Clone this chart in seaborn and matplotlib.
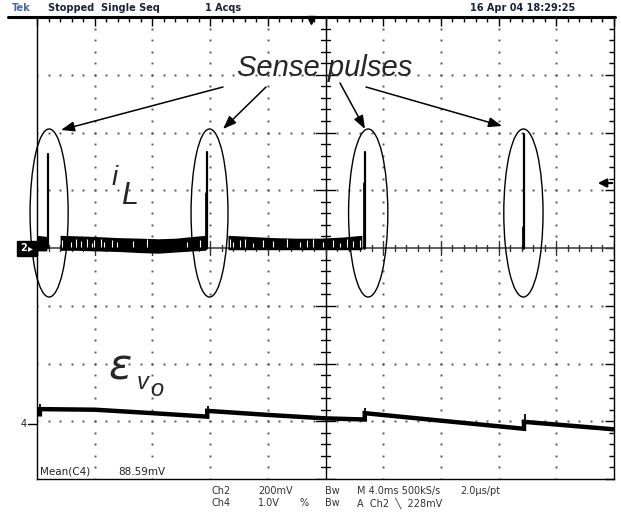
import numpy as np
import pandas as pd
import matplotlib
matplotlib.use("Agg")
import matplotlib.pyplot as plt
import seaborn as sns
from matplotlib.patches import Ellipse, Rectangle
from matplotlib.lines import Line2D

# ---------------- data (in scope divisions) ----------------
# inductor current i_L : sense pulses
pulse_x = [0.19, 2.95, 5.68, 8.44]
pulse_peak = [1.63, 1.66, 1.66, 1.97]
pulse_thick_top = [0.00, 0.95, 1.12, 0.36]

# i_L switching-noise band envelope (three segments)
bandA_x = [0.00, 0.17]
bandA_top = [0.22, 0.20]
bandA_bot = [-0.05, -0.05]
bandB_x = [0.40, 0.70, 1.00, 1.40, 1.80, 2.10, 2.40, 2.70, 2.92]
bandB_top = [0.22, 0.21, 0.20, 0.18, 0.17, 0.16, 0.17, 0.20, 0.22]
bandB_bot = [-0.04, -0.04, -0.05, -0.06, -0.08, -0.09, -0.07, -0.05, -0.04]
bandC_x = [3.31, 3.70, 4.10, 4.50, 4.90, 5.30, 5.63]
bandC_top = [0.22, 0.20, 0.18, 0.17, 0.17, 0.19, 0.22]
bandC_bot = [-0.03, -0.03, -0.03, -0.03, -0.03, -0.03, -0.03]
band_gaps = [0.43, 0.59, 0.68, 0.76, 0.87, 0.95, 0.99, 1.11, 1.16, 1.30, 1.39,
             1.66, 1.91, 2.60, 2.82, 3.34, 3.40, 3.52, 3.61, 3.74, 3.92, 4.09,
             4.33, 4.56, 4.68, 4.79, 4.96, 5.13, 5.25, 5.37, 5.47, 5.59]
gap_tops = [0.14, 0.10, 0.16, 0.12, 0.15, 0.09, 0.13, 0.16, 0.11, 0.14, 0.10,
            0.12, 0.15, 0.11, 0.14, 0.16, 0.10, 0.13, 0.15, 0.09, 0.14, 0.12,
            0.16, 0.10, 0.13, 0.15, 0.11, 0.14, 0.09, 0.15, 0.12, 0.14]

# output voltage error trace (steps) and the small spikes at each step
ev_x = [0.00, 0.05, 0.05, 1.00, 2.00, 2.95, 2.95, 4.00, 5.00,
        5.68, 5.68, 7.00, 8.44, 8.44, 10.00]
ev_y = [-2.88, -2.88, -2.79, -2.80, -2.86, -2.92, -2.82, -2.89,
        -2.95, -2.97, -2.86, -2.99, -3.13, -3.01, -3.14]
ev_spike_x = [0.06, 2.96, 5.69, 8.45]
ev_spike_top = [-2.70, -2.73, -2.77, -2.87]
ev_spike_base = [-2.79, -2.82, -2.86, -3.01]

# annotation ellipses (centre x, width)
ell_x = [0.21, 2.99, 5.74, 8.43]
ell_w = [0.66, 0.64, 0.68, 0.68]
ell_y, ell_h = 0.606, 2.91

ch2_level, ch4_level = 0.0, -3.06
trig_level = 1.125
trig_pos = 4.75

header = [("Tek", 12), ("Stopped  Single Seq", 48), ("1 Acqs", 205),
          ("16 Apr 04 18:29:25", 470)]
footer1 = [("Ch2", 212), ("200mV", 258), ("Bw", 325), ("M 4.0ms 500kS/s", 357),
           ("2.0\u00b5s/pt", 460)]
footer2 = [("Ch4", 212), ("1.0V", 258), ("%", 299), ("Bw", 325),
           ("A  Ch2  \u2572  228mV", 357)]

# ---------------- figure ----------------
sns.set_style("white")
plt.rcParams["font.family"] = ["DejaVu Sans"]
W, H = 621, 512
fig = plt.figure(figsize=(W / 100, H / 100), dpi=100)
fig.patch.set_facecolor("white")
L, R, T, B = 37, 614, 17, 479
ax = fig.add_axes([L / W, 1 - B / H, (R - L) / W, (B - T) / H])
ax.set_xlim(0, 10)
ax.set_ylim(-4, 4)
for s in ax.spines.values():
    s.set_linewidth(1.0)
    s.set_color("black")
ax.set_xticks(np.arange(0, 11, 1))
ax.set_yticks(np.arange(-4, 5, 1))
ax.set_xticks(np.arange(0, 10.01, 0.2), minor=True)
ax.set_yticks(np.arange(-4, 4.01, 0.2), minor=True)
ax.tick_params(which="both", direction="in", top=True, right=True,
               labelbottom=False, labelleft=False, color="black", width=1)
ax.tick_params(which="major", length=6.5)
ax.tick_params(which="minor", length=3.6)

# dotted graticule
dots = np.arange(-4, 4.01, 0.2)
dx = np.arange(0, 10.01, 0.2)
for k in [1, 2, 3, 4, 6, 7, 8, 9]:
    ax.plot(np.full_like(dots, k), dots, ls="none", marker="s", ms=1.4,
            color="#555555", mew=0, zorder=1)
for k in [-3, -2, -1, 1, 2, 3]:
    ax.plot(dx, np.full_like(dx, k), ls="none", marker="s", ms=1.4,
            color="#555555", mew=0, zorder=1)

# centre cross with ticks
ax.axvline(5, color="black", lw=1, zorder=2)
ax.axhline(0, color="#444444", lw=1.2, zorder=2)
mi, ma = 0.075, 0.16
for v in dots:
    h = ma if abs(v - round(v)) < 1e-6 else mi
    ax.plot([5 - h, 5 + h], [v, v], color="black", lw=1, zorder=2)
for v in dx:
    h = ma if abs(v - round(v)) < 1e-6 else mi
    ax.plot([v, v], [-h * 0.8, h * 0.8], color="#333333", lw=1, zorder=2)

# i_L noise band
for bx, bt, bb in [(bandA_x, bandA_top, bandA_bot), (bandB_x, bandB_top, bandB_bot),
                   (bandC_x, bandC_top, bandC_bot)]:
    ax.fill_between(bx, bb, bt, color="black", lw=0, zorder=3)
ax.vlines(band_gaps, 0.02, gap_tops, color="white", lw=0.8, zorder=3.5)

# sense pulses via seaborn
pdf = pd.DataFrame({
    "x": [v for p in pulse_x for v in (p, p)],
    "y": [v for pk in pulse_peak for v in (0.0, pk)],
    "id": [i for i in range(len(pulse_x)) for _ in (0, 1)],
})
sns.lineplot(data=pdf, x="x", y="y", units="id", estimator=None, sort=False,
             color="black", lw=1.6, ax=ax, zorder=4)
for px_, pt in zip(pulse_x, pulse_thick_top):
    if pt > 0:
        ax.plot([px_ - 0.02, px_ - 0.02], [0, pt], color="black", lw=2.0, zorder=4)

# output-voltage error trace
edf = pd.DataFrame({"x": ev_x, "y": ev_y})
sns.lineplot(data=edf, x="x", y="y", estimator=None, sort=False, color="black",
             lw=3.2, ax=ax, zorder=4, solid_joinstyle="miter", solid_capstyle="butt")
ax.vlines(ev_spike_x, ev_spike_base, ev_spike_top, color="black", lw=1.3, zorder=4)
ax.set_xlabel("")
ax.set_ylabel("")

# ellipses
for cx, w in zip(ell_x, ell_w):
    ax.add_patch(Ellipse((cx, ell_y), w, ell_h, fill=False, ec="black", lw=1.0,
                         zorder=5, clip_on=False))

# annotation text + arrows
def d(px, py):
    return ((px - L) / 57.7, (248 - py) / 57.75)

ax.text(*d(325, 68), "Sense pulses", fontsize=21, style="italic",
        family=["Liberation Sans", "DejaVu Sans"], ha="center", va="center", zorder=6)
for (sx, sy), (ex, ey) in [((223, 87), (61, 130)), ((266, 87), (223, 129)),
                           ((340, 83), (365, 129)), ((366, 87), (502, 126))]:
    ax.annotate("", xy=d(ex, ey), xytext=d(sx, sy),
                arrowprops=dict(arrowstyle="-|>,head_length=0.8,head_width=0.3",
                                color="black", lw=1.1, shrinkA=0, shrinkB=0), zorder=6)

ax.text(*d(112, 185), "i", fontsize=20, style="italic",
        family=["Liberation Sans", "DejaVu Sans"], ha="left", va="baseline")
ax.text(*d(121, 204), "L", fontsize=22, style="italic",
        family=["Liberation Sans", "DejaVu Sans"], ha="left", va="baseline")
ax.text(*d(108, 379), "\u03b5", fontsize=31, style="italic",
        family=["DejaVu Sans"], ha="left", va="baseline")
ax.text(*d(137, 389), "v", fontsize=17, style="italic",
        family=["Liberation Sans", "DejaVu Sans"], ha="left", va="baseline")
ax.text(*d(150, 396), "o", fontsize=17, style="italic",
        family=["Liberation Sans", "DejaVu Sans"], ha="left", va="baseline")

# trigger markers
ax.plot([trig_pos], [4 - 0.06], marker="v", ms=6, color="black", zorder=6,
        clip_on=False)
ax.annotate("", xy=(9.72, trig_level), xytext=(9.97, trig_level),
            arrowprops=dict(arrowstyle="-|>,head_length=0.5,head_width=0.25",
                            color="black", lw=1.6, shrinkA=0, shrinkB=0))

# measurement readout
ax.text(*d(40, 472), "Mean(C4)", fontsize=7.5, ha="left", va="center", color="#222222",
        family=["Liberation Sans Narrow", "DejaVu Sans"],
        bbox=dict(fc="white", ec="none", pad=0.5), zorder=7)
ax.text(*d(118, 472), "88.59mV", fontsize=7.5, ha="left", va="center", color="#222222",
        family=["Liberation Sans Narrow", "DejaVu Sans"],
        bbox=dict(fc="white", ec="none", pad=0.5), zorder=7)

# figure-level decorations
fig.add_artist(Line2D([8 / W, 615 / W], [1 - T / H, 1 - T / H], color="black",
                      lw=2.2, transform=fig.transFigure))
for txt, x0 in header:
    fig.text(x0 / W, 1 - 8 / H, txt, fontsize=7, weight="bold",
             color="#4a66a8" if txt == "Tek" else "#1c2238",
             family=["Liberation Sans Narrow", "DejaVu Sans"], ha="left", va="center")
for txt, x0 in footer1:
    fig.text(x0 / W, 1 - 491 / H, txt, fontsize=7, color="#333333",
             family=["Liberation Sans Narrow", "DejaVu Sans"], ha="left", va="center")
for txt, x0 in footer2:
    fig.text(x0 / W, 1 - 503 / H, txt, fontsize=7, color="#333333",
             family=["Liberation Sans Narrow", "DejaVu Sans"], ha="left", va="center")

# channel ground markers
y2 = 1 - 248 / H
fig.add_artist(Rectangle((17 / W, 1 - 256 / H), 20 / W, 15 / H, color="black",
                         transform=fig.transFigure))
fig.text(20 / W, y2, "2", fontsize=7, weight="bold", color="white", ha="left",
         va="center")
fig.text(28 / W, y2, "\u25b8", fontsize=7, color="white", ha="left", va="center")
fig.text(21 / W, 1 - 424 / H, "4", fontsize=7, color="#222222", ha="left", va="center")
fig.add_artist(Line2D([28 / W, 37 / W], [1 - 424 / H, 1 - 424 / H], color="black",
                      lw=1, transform=fig.transFigure))

fig.savefig("out.png", dpi=100)
